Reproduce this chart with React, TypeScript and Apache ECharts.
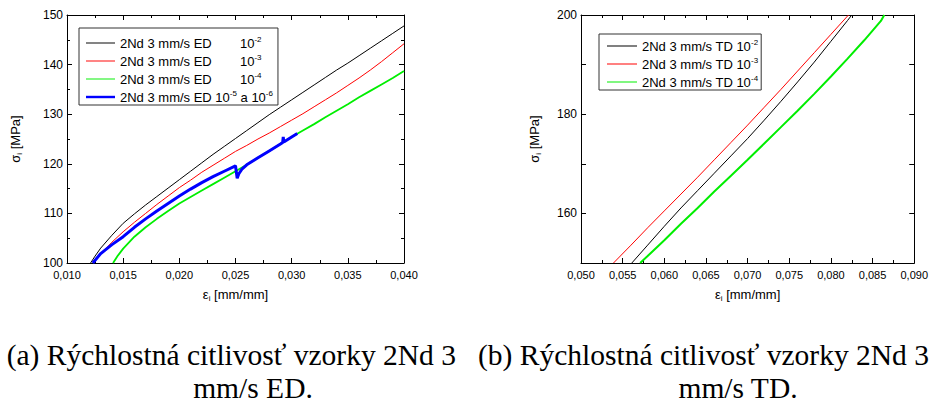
import React, { useEffect, useRef } from "react";
import * as echarts from "echarts";

// ---------- Data: ED (left chart) ----------
const edBlackX = [0.0121, 0.0125, 0.013, 0.014, 0.015, 0.016, 0.017, 0.018, 0.019, 0.020, 0.021, 0.022, 0.023, 0.024, 0.025, 0.026, 0.027, 0.028, 0.029, 0.030, 0.031, 0.032, 0.033, 0.034, 0.035, 0.036, 0.037, 0.038, 0.039, 0.040];
const edBlackY = [100, 101.4, 103.0, 105.6, 108.0, 109.9, 111.7, 113.4, 115.1, 116.8, 118.5, 120.2, 121.9, 123.5, 125.1, 126.7, 128.3, 129.9, 131.4, 132.9, 134.4, 135.9, 137.4, 138.9, 140.3, 141.8, 143.3, 144.8, 146.3, 147.8];

const edRedX = [0.0123, 0.013, 0.014, 0.015, 0.016, 0.017, 0.018, 0.019, 0.020, 0.021, 0.022, 0.023, 0.024, 0.025, 0.026, 0.027, 0.028, 0.029, 0.030, 0.031, 0.032, 0.033, 0.034, 0.035, 0.036, 0.037, 0.038, 0.039, 0.040];
const edRedY = [100, 101.8, 104.2, 106.3, 108.2, 110.0, 111.8, 113.5, 115.2, 116.7, 118.3, 119.7, 121.1, 122.5, 123.7, 125.0, 126.2, 127.5, 128.8, 130.1, 131.5, 132.9, 134.3, 135.8, 137.3, 138.9, 140.6, 142.4, 144.2];

const edGreenX = [0.0141, 0.0145, 0.015, 0.016, 0.017, 0.018, 0.019, 0.020, 0.021, 0.022, 0.023, 0.024, 0.025, 0.026, 0.027, 0.028, 0.029, 0.030, 0.031, 0.032, 0.033, 0.034, 0.035, 0.036, 0.037, 0.038, 0.039, 0.040];
const edGreenY = [100, 101.4, 102.9, 105.3, 107.2, 108.9, 110.5, 112.0, 113.3, 114.6, 115.9, 117.2, 118.5, 119.8, 121.2, 122.6, 124.0, 125.4, 126.7, 128.0, 129.4, 130.7, 132.0, 133.4, 134.7, 136.0, 137.3, 138.7];

const edBlueX = [0.0123, 0.013, 0.014, 0.015, 0.016, 0.017, 0.018, 0.019, 0.020, 0.021, 0.022, 0.023, 0.024, 0.025, 0.02515, 0.0253, 0.0256, 0.026, 0.027, 0.028, 0.029, 0.0292, 0.02925, 0.0293, 0.030, 0.0305];
const edBlueY = [100, 101.9, 103.7, 105.3, 107.2, 108.9, 110.5, 112.0, 113.5, 114.9, 116.2, 117.4, 118.5, 119.6, 117.1, 118.0, 119.0, 119.8, 121.2, 122.6, 124.0, 124.3, 125.4, 124.4, 125.4, 126.1];

// ---------- Data: TD (right chart) ----------
const tdBlackX = [0.0561, 0.058, 0.060, 0.062, 0.064, 0.066, 0.068, 0.070, 0.072, 0.074, 0.076, 0.078, 0.080, 0.082, 0.0825];
const tdBlackY = [150, 153.6, 157.4, 161.1, 164.6, 168.1, 171.6, 175.1, 178.8, 182.6, 186.5, 190.5, 194.7, 198.9, 200];

const tdRedX = [0.0539, 0.056, 0.058, 0.060, 0.062, 0.064, 0.066, 0.068, 0.070, 0.072, 0.074, 0.076, 0.078, 0.080, 0.082, 0.0821];
const tdRedY = [150, 153.6, 157.1, 160.5, 163.9, 167.3, 170.8, 174.3, 177.8, 181.4, 185.0, 188.7, 192.4, 196.1, 199.8, 200];

const tdGreenX = [0.0571, 0.058, 0.060, 0.062, 0.064, 0.066, 0.068, 0.070, 0.072, 0.074, 0.076, 0.078, 0.080, 0.082, 0.084, 0.086, 0.0864];
const tdGreenY = [150, 151.4, 154.6, 157.9, 161.1, 164.4, 167.6, 170.8, 174.1, 177.4, 180.7, 184.1, 187.6, 191.2, 194.9, 198.8, 200];

// ---------- Texts ----------
const edNames = ["2Nd 3 mm/s ED 10-2", "2Nd 3 mm/s ED 10-3", "2Nd 3 mm/s ED 10-4", "2Nd 3 mm/s ED 10-5 a 10-6"];
const edLegendRich = [
  "{a|2Nd 3 mm/s ED}{b|10}{s|-2}",
  "{a|2Nd 3 mm/s ED}{b|10}{s|-3}",
  "{a|2Nd 3 mm/s ED}{b|10}{s|-4}",
  "{b|2Nd 3 mm/s ED 10}{s|-5}{b| a 10}{s|-6}",
];
const tdNames = ["2Nd 3 mm/s TD 10-2", "2Nd 3 mm/s TD 10-3", "2Nd 3 mm/s TD 10-4"];
const tdLegendRich = [
  "{b|2Nd 3 mm/s TD 10}{s|-2}",
  "{b|2Nd 3 mm/s TD 10}{s|-3}",
  "{b|2Nd 3 mm/s TD 10}{s|-4}",
];
const captionA1 = "(a) Rýchlostná citlivosť vzorky 2Nd 3";
const captionA2 = "mm/s ED.";
const captionB1 = "(b) Rýchlostná citlivosť vzorky 2Nd 3";
const captionB2 = "mm/s TD.";

const FONT = "Liberation Sans";
const SERIF = "Liberation Serif";

const pairs = (xs: number[], ys: number[]) => xs.map((x, i) => [x, ys[i]]);
const fmtX = (v: number) => v.toFixed(3).replace(".", ",");

const axisLine = { show: true, onZero: false, lineStyle: { color: "#000", width: 1 } };
const axisTick = { show: true, inside: true, length: 5, lineStyle: { color: "#000", width: 1 } };
const minorTick = { show: true, splitNumber: 2, length: 3, lineStyle: { color: "#000", width: 1 } };

const nameStyle = {
  color: "#000",
  fontSize: 13,
  fontFamily: FONT,
  lineHeight: 15,
  rich: { s: { fontSize: 8, fontFamily: FONT, lineHeight: 8, verticalAlign: "bottom", color: "#000" } },
};

function makeX(gridIndex: number, min: number, max: number) {
  const base: any = {
    type: "value",
    gridIndex,
    min,
    max,
    interval: 0.005,
    axisLine,
    axisTick,
    minorTick,
    splitLine: { show: false },
    minorSplitLine: { show: false },
  };
  return [
    {
      ...base,
      position: "bottom",
      axisLabel: { formatter: fmtX, color: "#000", fontSize: 11, fontFamily: FONT, margin: 6 },
      name: "ε{s|i} [mm/mm]",
      nameLocation: "middle",
      nameGap: 24,
      nameTextStyle: nameStyle,
    },
    { ...base, position: "top", axisLabel: { show: false } },
  ];
}

function makeY(gridIndex: number, min: number, max: number, minor: boolean, labelFilter: (v: number) => boolean, nameGap: number) {
  const base: any = {
    type: "value",
    gridIndex,
    min,
    max,
    interval: 10,
    axisLine,
    axisTick,
    minorTick: minor ? minorTick : { show: false },
    splitLine: { show: false },
    minorSplitLine: { show: false },
  };
  return [
    {
      ...base,
      position: "left",
      axisLabel: {
        formatter: (v: number) => (labelFilter(v) ? String(v) : ""),
        color: "#000",
        fontSize: 12,
        fontFamily: FONT,
        margin: 4,
      },
      name: "σ{s|i} [MPa]",
      nameLocation: "middle",
      nameGap,
      nameTextStyle: nameStyle,
    },
    { ...base, position: "right", axisLabel: { show: false } },
  ];
}

function line(name: string, xi: number, data: number[][], color: string, width: number, z: number) {
  return {
    type: "line",
    name,
    xAxisIndex: xi,
    yAxisIndex: xi,
    data,
    symbol: "none",
    showSymbol: false,
    clip: true,
    z,
    lineStyle: { color, width },
    itemStyle: { color },
  };
}

const legendText = (aWidth: number | undefined) => ({
  color: "#000",
  fontFamily: FONT,
  fontSize: 13,
  lineHeight: 15,
  rich: {
    a: { fontFamily: FONT, fontSize: 13, lineHeight: 15, width: aWidth, color: "#000" },
    b: { fontFamily: FONT, fontSize: 13, lineHeight: 15, color: "#000" },
    s: { fontFamily: FONT, fontSize: 8, lineHeight: 9, verticalAlign: "top", color: "#000" },
  },
});

const lineIcon = (w: number) => `path://M0,0H30V${w}H0Z`;

export default function App() {
  const ref = useRef<HTMLDivElement>(null);
  useEffect(() => {
    if (!ref.current) return;
    const chart = echarts.init(ref.current, null, { renderer: "svg" });
    const edColors = ["#000000", "#ff0000", "#00ee00", "#0000ff"];
    const tdColors = ["#000000", "#ff0000", "#00ee00"];
    const edIconW = [1, 1, 1, 2.5];
    const option: any = {
      animation: false,
      backgroundColor: "#fff",
      textStyle: { fontFamily: FONT },
      grid: [
        { left: 67, top: 15, width: 337, height: 248 },
        { left: 581, top: 15, width: 336, height: 248 },
      ],
      xAxis: [...makeX(0, 0.01, 0.04), ...makeX(1, 0.05, 0.09)],
      yAxis: [
        ...makeY(0, 100, 150, true, () => true, 44),
        ...makeY(1, 150, 200, false, (v) => v % 20 === 0, 39),
      ],
      legend: [
        {
          orient: "vertical",
          left: 79,
          top: 28,
          data: edNames.map((n, i) => ({ name: n, icon: lineIcon(edIconW[i]) })),
          formatter: (n: string) => edLegendRich[edNames.indexOf(n)],
          symbolKeepAspect: true,
          itemWidth: 29,
          itemHeight: 14,
          itemGap: 3,
          itemTextGap: 4,
          padding: [7.5, 5, 0.5, 7],
          borderColor: "#333",
          borderWidth: 1,
          borderRadius: 0,
          backgroundColor: "#fff",
          selectedMode: false,
          textStyle: legendText(120),
        },
        {
          orient: "vertical",
          left: 599,
          top: 34,
          data: tdNames.map((n) => ({ name: n, icon: lineIcon(1) })),
          formatter: (n: string) => tdLegendRich[tdNames.indexOf(n)],
          symbolKeepAspect: true,
          itemWidth: 30,
          itemHeight: 14,
          itemGap: 3,
          itemTextGap: 3,
          padding: [4.5, 3, 0.5, 8],
          borderColor: "#333",
          borderWidth: 1,
          borderRadius: 0,
          backgroundColor: "#fff",
          selectedMode: false,
          textStyle: legendText(undefined),
        },
      ],
      series: [
        line(edNames[0], 0, pairs(edBlackX, edBlackY), edColors[0], 1, 2),
        line(edNames[1], 0, pairs(edRedX, edRedY), edColors[1], 1, 3),
        line(edNames[2], 0, pairs(edGreenX, edGreenY), edColors[2], 1.8, 4),
        line(edNames[3], 0, pairs(edBlueX, edBlueY), edColors[3], 3, 5),
        line(tdNames[0], 2, pairs(tdBlackX, tdBlackY), tdColors[0], 1, 2),
        line(tdNames[1], 2, pairs(tdRedX, tdRedY), tdColors[1], 1, 3),
        line(tdNames[2], 2, pairs(tdGreenX, tdGreenY), tdColors[2], 2, 4),
      ],
      graphic: [
        { type: "text", x: 456, y: 355, style: { text: captionA1, fontFamily: SERIF, fontSize: 29.5, fill: "#000", align: "right", verticalAlign: "middle" } },
        { type: "text", x: 253, y: 388, style: { text: captionA2, fontFamily: SERIF, fontSize: 29.5, fill: "#000", align: "center", verticalAlign: "middle" } },
        { type: "text", x: 478, y: 355, style: { text: captionB1, fontFamily: SERIF, fontSize: 29.5, fill: "#000", align: "left", verticalAlign: "middle" } },
        { type: "text", x: 738, y: 388, style: { text: captionB2, fontFamily: SERIF, fontSize: 29.5, fill: "#000", align: "center", verticalAlign: "middle" } },
      ],
    };
    chart.setOption(option);
    return () => chart.dispose();
  }, []);
  return <div ref={ref} style={{ position: "absolute", left: 0, top: 0, width: 931, height: 406 }} />;
}
